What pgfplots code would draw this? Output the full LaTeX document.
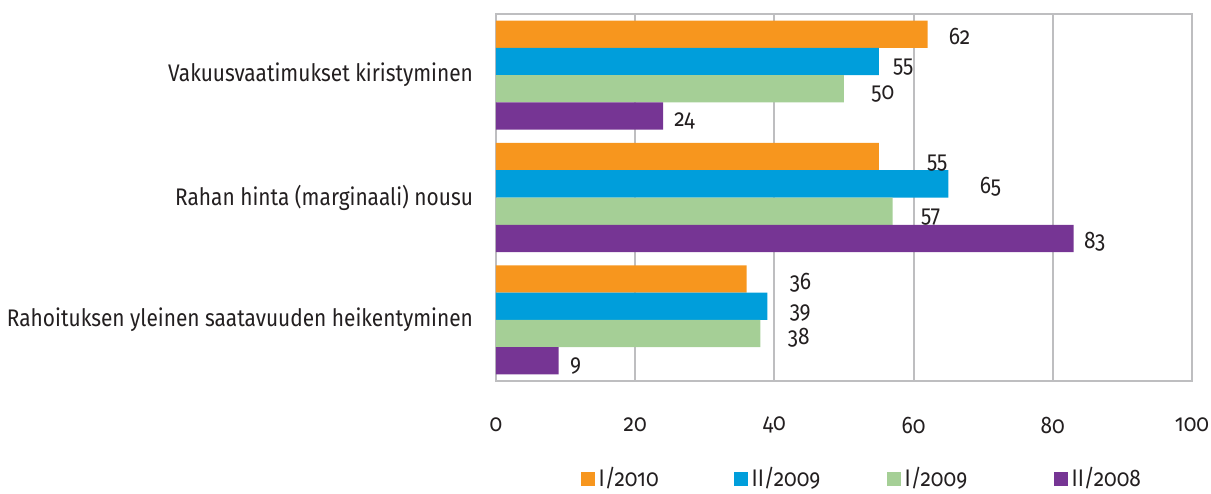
\documentclass[border=0pt]{standalone}
\usepackage{fontspec}
\setmainfont{Fira Sans}[Numbers=OldStyle, FakeStretch=0.87]
\usepackage{pgfplots}
\usepackage{pgfplotstable}
\pgfplotsset{compat=1.18}

\definecolor{cOrange}{HTML}{F7961E}
\definecolor{cBlue}{HTML}{009EDB}
\definecolor{cGreen}{HTML}{A5CF96}
\definecolor{cPurple}{HTML}{763594}
\definecolor{cGrid}{HTML}{BEBEC0}
\definecolor{cText}{HTML}{231F20}

% y: 0 = top category; dx/dy = label offsets (pt)
\pgfplotstableread{
y x dx dy
0 62 10.5 -1
1 55 24 -3.2
2 36 21.5 -2
}\serA
\pgfplotstableread{
y x dx dy
0 55 7 -2.7
1 65 15.5 -1.3
2 39 11 -3.3
}\serB
\pgfplotstableread{
y x dx dy
0 50 13.5 -2.5
1 57 14 -3
2 38 13.5 -2
}\serC
\pgfplotstableread{
y x dx dy
0 24 5.5 -2.5
1 83 5 -1.5
2 9 5.5 -2.5
}\serD

\newcommand\f{\fontsize{12}{14}\selectfont}

\begin{document}
\begin{tikzpicture}
\path[use as bounding box] (-248pt,-56pt) rectangle (357.5pt,190.5pt);
\begin{axis}[
  at={(0,0)}, anchor=south west,
  scale only axis, width=348pt, height=183.5pt,
  xbar, bar width=0.223,
  xmin=0, xmax=100, ymin=-0.5, ymax=2.5, y dir=reverse,
  xtick={0,20,...,100}, ytick={0,1,2},
  yticklabels={Vakuusvaatimukset kiristyminen, Rahan hinta (marginaali) nousu, Rahoituksen yleinen saatavuuden heikentyminen},
  /pgf/number format/assume math mode=true,
  font=\f, text=cText,
  xmajorgrids, grid style={cGrid, line width=1pt},
  axis line style={cGrid, line width=1pt},
  tick style={draw=none}, major tick length=0pt,
  xticklabel style={anchor=center, yshift=-22pt},
  yticklabel style={anchor=east, xshift=-8pt},
  clip=false,
  nodes near coords,
  visualization depends on={\thisrow{dx} \as \dx},
  visualization depends on={\thisrow{dy} \as \dy},
  every node near coord/.append style={font=\f, text=cText, inner sep=0pt, anchor=west, xshift=\dx pt, yshift=\dy pt},
  legend image code/.code={\fill[#1] (0pt,-3.5pt) rectangle (7pt,3.5pt);},
  legend columns=-1,
  legend style={draw=none, fill=none, font=\f, text=cText,
    at={(0.527,-0.266)}, anchor=center,
    /tikz/every even column/.append style={column sep=1pt}},
]
\addplot[draw=none, fill=cOrange, bar shift=-0.3345] table[x=x, y=y] {\serA};
\addlegendentry{\makebox[64.5pt][l]{I/2010}}
\addplot[draw=none, fill=cBlue, bar shift=-0.1115] table[x=x, y=y] {\serB};
\addlegendentry{\makebox[64.5pt][l]{II/2009}}
\addplot[draw=none, fill=cGreen, bar shift=0.1115] table[x=x, y=y] {\serC};
\addlegendentry{\makebox[71.5pt][l]{I/2009}}
\addplot[draw=none, fill=cPurple, bar shift=0.3345] table[x=x, y=y] {\serD};
\addlegendentry{II/2008}
\end{axis}
\end{tikzpicture}
\end{document}
